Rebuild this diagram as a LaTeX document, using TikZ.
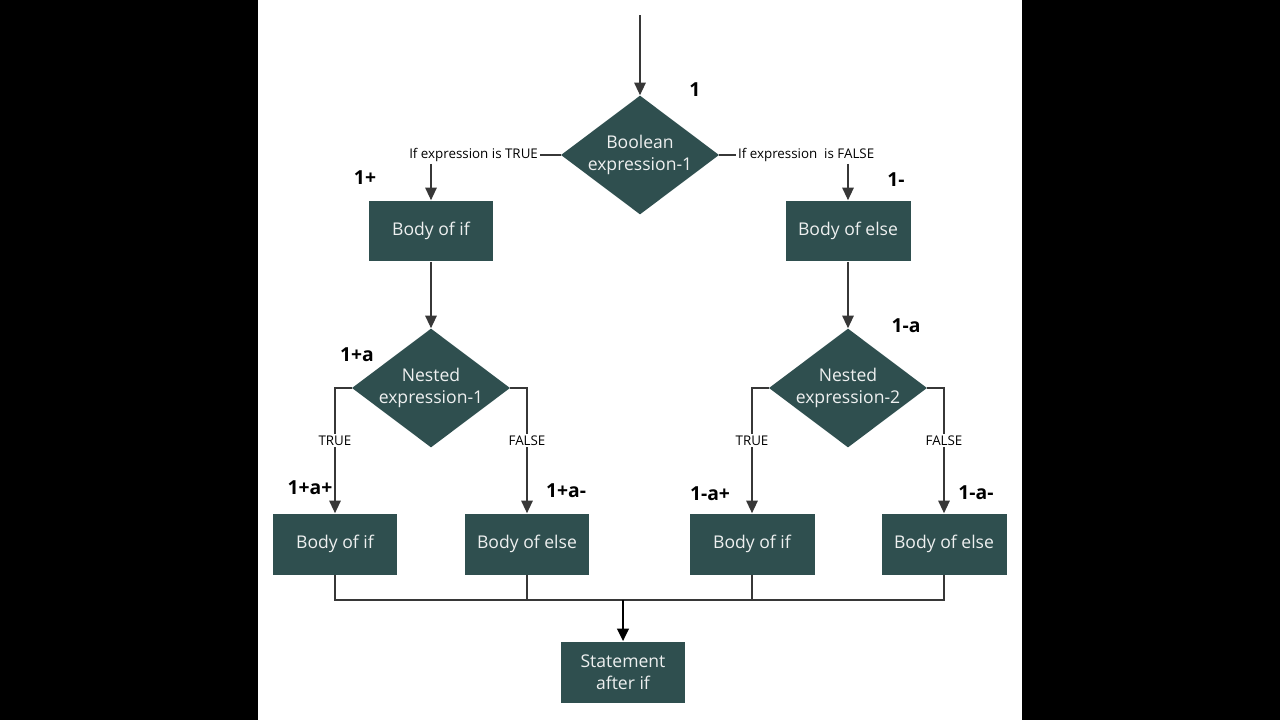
\documentclass[tikz,border=0pt]{standalone}
\usepackage{fontspec}
\setmainfont{Open Sans}
\usetikzlibrary{arrows.meta,shapes.geometric}
\definecolor{slate}{RGB}{47,79,79}
\definecolor{paper}{RGB}{238,240,240}
\definecolor{wire}{RGB}{55,55,55}
\tikzset{
  >={Triangle[length=2.5mm,width=2.3mm]},
  block/.style={fill=slate,text=paper,minimum width=2.5cm,minimum height=1.22cm,
    inner sep=0pt,align=center,font=\fontsize{10}{12.5}\selectfont},
  decide/.style={diamond,fill=slate,text=paper,aspect=1.33,inner sep=0pt,
    minimum width=3.08cm,minimum height=2.32cm,align=center,
    font=\fontsize{10}{13}\selectfont},
  branch/.style={fill=white,inner sep=1pt,font=\fontsize{7.6}{9}\selectfont},
  tally/.style={font=\bfseries\fontsize{11}{13}\selectfont},
  wire/.style={draw=wire,line width=0.7pt},
  flow/.style={->,draw=wire,line width=0.7pt},
}
\begin{document}
\begin{tikzpicture}[x=0.02cm,y=-0.02cm]
  % backdrop
  \fill[black] (0,0) rectangle (1280,720);
  \fill[white] (258,0) rectangle (1022,720);

  % first test
  \coordinate (start) at (640,15);
  \node[decide] (d1) at (640,155) {Boolean\\expression-1};
  \node[tally] (c1) at (695,90) {1};
  \draw[flow] (start) -- (d1);
  \node[branch,anchor=east] (tt) at (540,155) {If expression is TRUE};
  \node[branch,anchor=west] (tf) at (736,155) {If expression\ \ is FALSE};
  \draw[wire] (d1.west) -- (tt.east);
  \draw[wire] (d1.east) -- (tf.west);

  % first bodies
  \node[block] (b1) at (431,231) {Body of if};
  \node[block] (b2) at (848,231) {Body of else};
  \node[tally] (c1p) at (365,178) {1+};
  \node[tally] (c1m) at (896,180) {1-};
  \draw[flow] (tt.south -| b1) -- (b1);
  \draw[flow] (tf.south -| b2) -- (b2);

  % nested tests
  \node[decide] (n1) at (431,388) {Nested\\expression-1};
  \node[decide] (n2) at (848,388) {Nested\\expression-2};
  \node[tally] (c1pa) at (357,355) {1+a};
  \node[tally] (c1ma) at (906,326) {1-a};
  \draw[flow] (b1) -- (n1);
  \draw[flow] (b2) -- (n2);

  % nested bodies
  \node[block] (b3) at (335,544) {Body of if};
  \node[block] (b4) at (527,544) {Body of else};
  \node[block] (b5) at (752,544) {Body of if};
  \node[block] (b6) at (944,544) {Body of else};
  \node[tally] (c3) at (310,488) {1+a+};
  \node[tally] (c4) at (566,491) {1+a-};
  \node[tally] (c5) at (710,494) {1-a+};
  \node[tally] (c6) at (976,493) {1-a-};
  \draw[flow] (n1.west) -| node[branch,pos=0.71] (t1) {TRUE} (b3);
  \draw[flow] (n1.east) -| node[branch,pos=0.71] (f1) {FALSE} (b4);
  \draw[flow] (n2.west) -| node[branch,pos=0.71] (t2) {TRUE} (b5);
  \draw[flow] (n2.east) -| node[branch,pos=0.71] (f2) {FALSE} (b6);

  % merge
  \coordinate (m) at (623,600);
  \node[block] (after) at (623,672) {Statement\\after if};
  \draw[wire] (b3.south) |- (m) -| (b6.south);
  \draw[wire] (b4.south) |- (m);
  \draw[wire] (b5.south) |- (m);
  \draw[wire,line width=1.2pt] (b4.south |- m) -- (b5.south |- m);
  \draw[flow,draw=black,line width=1.3pt] (m) -- (after);
\end{tikzpicture}
\end{document}
